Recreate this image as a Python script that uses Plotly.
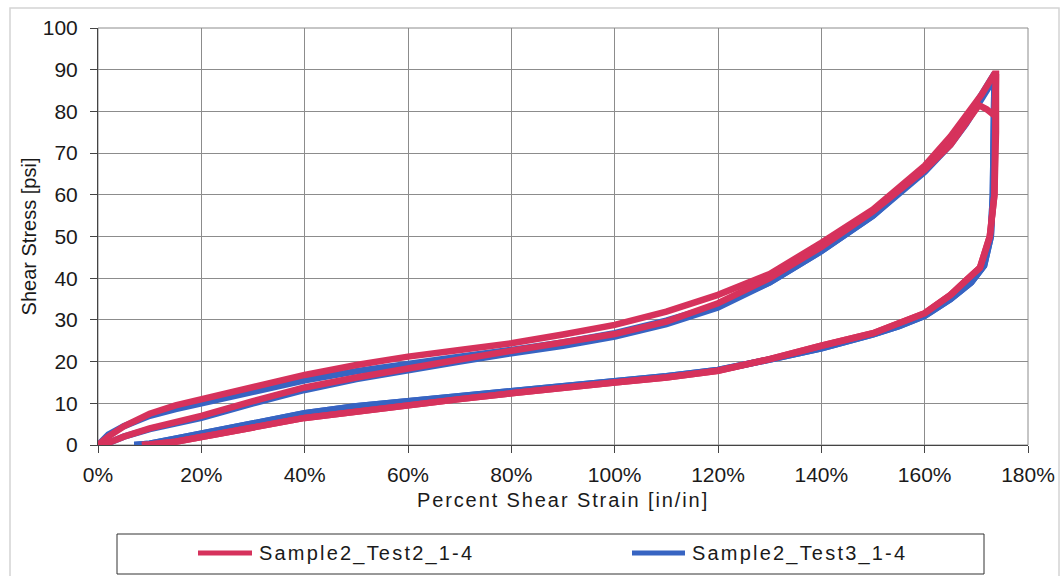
import plotly.graph_objects as go

# ---------------- data ----------------
# Sample2_Test2_1-4 (red)
t2_load1_strain = [0, 2, 5, 10, 15, 20, 30, 40, 50, 60, 70, 80, 90, 100, 110, 120, 130, 140, 150, 155, 160, 165, 168, 171, 173.5]
t2_load1_stress = [0, 2, 4.5, 7.5, 9.5, 11, 14, 16.8, 19.2, 21.2, 22.8, 24.4, 26.5, 28.8, 32, 36, 41, 48.5, 56.5, 61.5, 67, 74, 79, 84, 89]
t2_reload_strain = [1, 5, 10, 20, 30, 40, 50, 60, 70, 80, 90, 100, 110, 120, 130, 140, 150, 160, 165, 168, 170.5, 172, 173.5]
t2_reload_stress = [0, 2, 4, 7, 10.5, 13.8, 16.2, 18.5, 20.5, 22.6, 24.5, 26.6, 29.6, 34, 40, 47.5, 56, 66, 72, 77, 81.5, 80.5, 79]
t2_unload_strain = [173.8, 173.8, 173.5, 172.6, 170.7, 168, 165, 160, 155, 150, 140, 130, 120, 110, 100, 90, 80, 70, 60, 50, 40, 30, 20, 15, 10, 8.5]
t2_unload_stress = [89, 75, 60, 50, 42.5, 39.5, 36, 31.6, 29, 26.8, 23.8, 20.6, 17.8, 16.2, 15, 13.8, 12.4, 11, 9.6, 8, 6.5, 4.2, 1.8, 0.8, 0.1, 0]

# Sample2_Test3_1-4 (blue)
t3_load1_strain = [0, 2, 5, 10, 15, 20, 30, 40, 50, 60, 70, 80, 90, 100, 110, 120, 130, 140, 150, 155, 160, 165, 168, 171, 173]
t3_load1_stress = [0, 2.5, 4.5, 7, 8.6, 10, 13, 15.5, 17.7, 19.6, 21.2, 22.8, 24.6, 26.8, 29.8, 33.5, 39, 46.5, 55, 60.5, 66, 73, 78, 84, 88]
t3_reload_strain = [1, 5, 10, 20, 30, 40, 50, 60, 70, 80, 90, 100, 110, 120, 130, 140, 150, 160, 165, 168, 171, 173]
t3_reload_stress = [0, 2, 3.8, 6.5, 10, 13.2, 15.8, 18, 20, 22, 23.8, 26, 29, 33, 39, 46.5, 55, 65.5, 72, 77, 83, 87]
t3_unload_strain = [173.5, 173.5, 173.2, 172.8, 171.5, 169, 165, 160, 155, 150, 140, 130, 120, 110, 100, 90, 80, 70, 60, 50, 40, 30, 20, 15, 10, 7]
t3_unload_stress = [87, 75, 60, 50, 43, 39, 35, 31, 28.5, 26.5, 23.2, 20.5, 18, 16.5, 15.3, 14.2, 13, 11.8, 10.8, 9.3, 7.6, 5.3, 2.8, 1.5, 0.3, 0]

series_names = ["Sample2_Test2_1-4", "Sample2_Test3_1-4"]
series_colors = ["#d6325c", "#3764c2"]

x_title = "Percent Shear Strain [in/in]"
y_title = "Shear Stress [psi]"


def path(load1_x, load1_y, reload_x, reload_y, unload_x, unload_y):
    xs = list(load1_x) + list(unload_x) + [None] + list(reload_x) + list(unload_x)
    ys = list(load1_y) + list(unload_y) + [None] + list(reload_y) + list(unload_y)
    return xs, ys


red_x, red_y = path(t2_load1_strain, t2_load1_stress, t2_reload_strain, t2_reload_stress,
                    t2_unload_strain, t2_unload_stress)
blue_x, blue_y = path(t3_load1_strain, t3_load1_stress, t3_reload_strain, t3_reload_stress,
                      t3_unload_strain, t3_unload_stress)

FONT = "Liberation Sans, Arial, sans-serif"
TXT = "#1a1a1a"

fig = go.Figure()
fig.add_trace(go.Scatter(x=blue_x, y=blue_y, mode="lines", name=series_names[1],
                         line=dict(color=series_colors[1], width=6.5), connectgaps=False))
fig.add_trace(go.Scatter(x=red_x, y=red_y, mode="lines", name=series_names[0],
                         line=dict(color=series_colors[0], width=6.5), connectgaps=False))

W, H = 1063, 576
L, R, T, B = 98, 35, 28, 131
pw, ph = W - L - R, H - T - B


def px(xpix):
    return (xpix - L) / pw


def py(ypix):
    return (H - B - ypix) / ph


def spaced(s, sp=1.8):
    return '<span style="letter-spacing:%spx">%s</span>' % (sp, s)


fig.update_layout(
    width=W, height=H,
    margin=dict(l=L, r=R, t=T, b=B, autoexpand=False),
    paper_bgcolor="white", plot_bgcolor="white",
    showlegend=False,
    font=dict(family=FONT, size=20, color=TXT),
    xaxis=dict(
        range=[0, 180], dtick=20, tick0=0, ticksuffix="%",
        automargin=False,
        showgrid=True, gridcolor="#8c8c8c", gridwidth=1,
        showline=True, linecolor="#444444", linewidth=1,
        ticks="outside", ticklen=7, tickcolor="#444444",
        ticklabelstandoff=4,
        zeroline=False,
        tickfont=dict(family=FONT, size=21, color=TXT),
        title=dict(text=spaced(x_title, 1.9), font=dict(family=FONT, size=20, color=TXT), standoff=7),
    ),
    yaxis=dict(
        range=[0, 100], dtick=10, tick0=0,
        automargin=False,
        showgrid=True, gridcolor="#8c8c8c", gridwidth=1,
        showline=True, linecolor="#444444", linewidth=1,
        ticks="outside", ticklen=7, tickcolor="#444444",
        ticklabelstandoff=8,
        zeroline=False,
        tickfont=dict(family=FONT, size=21, color=TXT),
        title=dict(text=y_title, font=dict(family=FONT, size=20, color=TXT), standoff=0),
    ),
)

# right/top frame lines of the plot area
fig.add_shape(type="rect", xref="paper", yref="paper", x0=0, x1=1, y0=0, y1=1,
              line=dict(color="#8c8c8c", width=1), layer="below")

# outer chart frame
fig.add_shape(type="rect", xref="paper", yref="paper",
              x0=px(10), x1=px(1059), y0=py(8), y1=py(600),
              line=dict(color="#d4d4d4", width=1.5))

# legend box (drawn manually to match the reference layout)
fig.add_shape(type="rect", xref="paper", yref="paper",
              x0=px(117), x1=px(984), y0=py(534), y1=py(574),
              line=dict(color="#333333", width=1), fillcolor="white")
legend_items = [(198, 252, 257), (632, 685, 690)]
for (lx0, lx1, tx), name, col in zip(legend_items, series_names, series_colors):
    fig.add_shape(type="line", xref="paper", yref="paper",
                  x0=px(lx0), x1=px(lx1), y0=py(553), y1=py(553),
                  line=dict(color=col, width=5))
    fig.add_annotation(xref="paper", yref="paper", x=px(tx), y=py(553),
                       text=spaced(name, 2.2), showarrow=False,
                       xanchor="left", yanchor="middle",
                       font=dict(family=FONT, size=20, color=TXT))

fig.write_html("out.html")
